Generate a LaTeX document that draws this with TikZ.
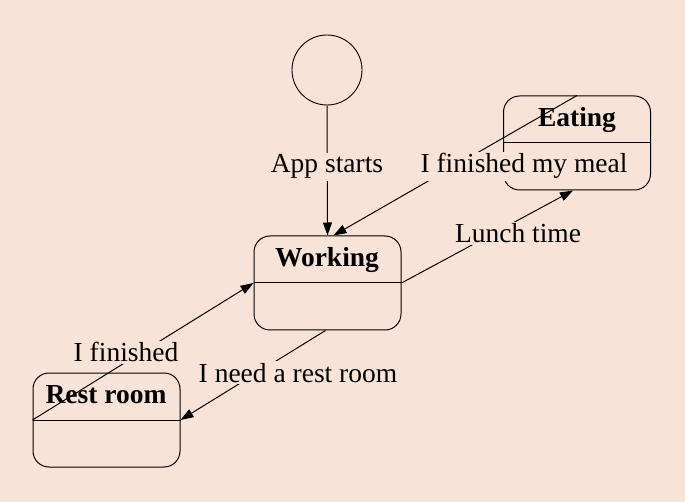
\documentclass[tikz,border=0pt]{standalone}
\usepackage{fontspec}
\setmainfont{Liberation Serif}
\usetikzlibrary{arrows.meta}
\definecolor{bg}{HTML}{F8E3D8}
\begin{document}
\begin{tikzpicture}[x=1pt,y=-1pt,
  state/.style={draw, rounded corners=16pt, minimum width=147pt, minimum height=94pt, inner sep=0pt, line width=1pt},
  title/.style={anchor=base, font=\fontsize{27.5}{30}\selectfont\bfseries, inner sep=0pt},
  lbl/.style={anchor=base, fill=bg, inner sep=2pt, font=\fontsize{27.5}{30}\selectfont},
  edge/.style={line width=1pt, -{Triangle[length=13pt,width=9pt]}},
  plain/.style={line width=1pt}]
\fill[bg] (0,0) rectangle (685,502);
\useasboundingbox (0,0) rectangle (685,502);
% states
\node[draw, circle, minimum size=70pt, inner sep=0pt, line width=0.9pt] (init) at (327,70) {};
\node[state] (work) at (327.5,283) {};
\node[state] (eat) at (577,143) {};
\node[state] (rest) at (106.5,420) {};
\draw[plain] (work.west) -- (work.east);
\draw[plain] (eat.west) -- (eat.east);
\draw[plain] (rest.west) -- (rest.east);
\node[title] (workt) at (327,267) {Working};
\node[title] (eatt) at (577,127) {Eating};
\node[title] (restt) at (106,403) {Rest room};
% edges
\draw[edge] (init.south) -- (work.north);
\draw[edge] (eat.north) -- ([xshift=6pt]work.north);
\draw[edge] (work.east) -- ([xshift=-4pt]eat.south);
\draw[edge] (rest.west) -- (work.west);
\draw[edge] ([xshift=-2pt]work.south) -- (rest.east);
% labels
\node[lbl] (l1) at (327,173) {App starts};
\node[lbl] (l2) at (524,173) {I finished my meal};
\node[lbl] (l3) at (518,243) {Lunch time};
\node[lbl] (l4) at (126,362) {I finished};
\node[lbl] (l5) at (298,382) {I need a rest room};
\end{tikzpicture}
\end{document}
